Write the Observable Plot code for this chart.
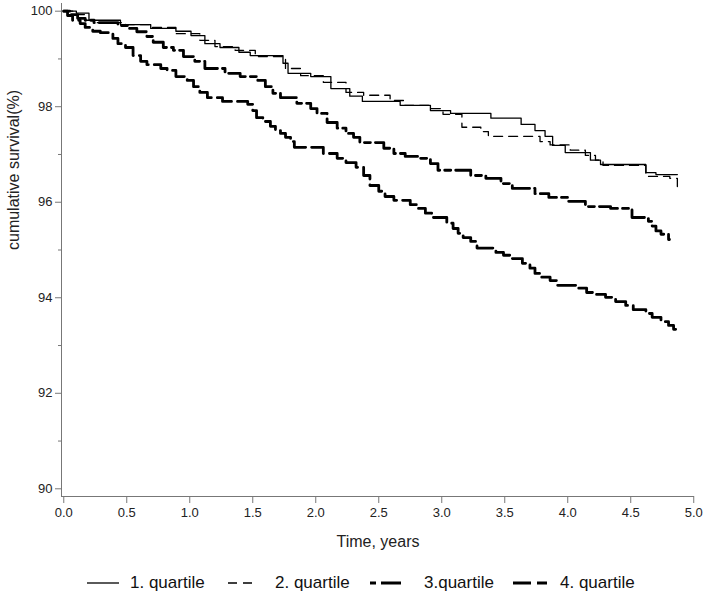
<!DOCTYPE html>
<html><head><meta charset="utf-8">
<script src="https://cdn.jsdelivr.net/npm/d3@7"></script>
<script src="https://cdn.jsdelivr.net/npm/@observablehq/plot@0.6"></script>
<style>
body{margin:0;background:#fff;font-family:"Liberation Sans",Arial,sans-serif;}
#legend{position:relative;width:704px;height:36px;}
#legend .s{position:absolute;top:0;height:36px;}
#legend .t{position:absolute;top:0;height:36px;line-height:36px;font-size:17px;color:#111;white-space:pre;}
</style></head><body><div id="chart"></div><div id="legend"></div>
<script>
// ---------- data ----------
const seriesNames = ["1. quartile", "2. quartile", "3.quartile", "4. quartile"];

const q1Time = [0, 0.10, 0.20, 0.45, 0.69, 0.89, 1.01, 1.12, 1.24, 1.39, 1.48, 1.74, 1.78, 1.96, 2.12, 2.27, 2.37, 2.67, 2.91, 3.07, 3.39, 3.63, 3.74, 3.82, 3.88, 3.98, 4.18, 4.26, 4.62, 4.70, 4.87];
const q1Surv = [100, 99.96, 99.81, 99.72, 99.64, 99.58, 99.49, 99.32, 99.24, 99.14, 99.07, 98.91, 98.70, 98.63, 98.38, 98.22, 98.11, 98.03, 97.92, 97.86, 97.76, 97.63, 97.50, 97.38, 97.19, 97.04, 96.88, 96.79, 96.62, 96.58, 96.58];

const q2Time = [0, 0.09, 0.17, 0.25, 0.49, 0.69, 0.89, 1.08, 1.20, 1.36, 1.52, 1.76, 1.88, 2.06, 2.24, 2.38, 2.59, 2.70, 2.91, 3.01, 3.16, 3.31, 3.37, 3.78, 3.86, 4.02, 4.14, 4.22, 4.28, 4.62, 4.81, 4.87];
const q2Surv = [100, 99.93, 99.81, 99.76, 99.72, 99.66, 99.53, 99.39, 99.26, 99.18, 99.05, 98.80, 98.65, 98.51, 98.30, 98.24, 98.13, 98.03, 97.96, 97.84, 97.57, 97.48, 97.38, 97.27, 97.20, 97.09, 96.98, 96.88, 96.77, 96.54, 96.50, 96.33];

const q3Time = [0, 0.05, 0.11, 0.17, 0.24, 0.43, 0.51, 0.58, 0.66, 0.71, 0.79, 0.87, 0.95, 1.04, 1.12, 1.28, 1.40, 1.54, 1.60, 1.66, 1.72, 1.85, 1.96, 2.01, 2.09, 2.17, 2.24, 2.30, 2.35, 2.54, 2.62, 2.71, 2.83, 2.91, 2.97, 3.23, 3.35, 3.47, 3.56, 3.74, 3.85, 4.00, 4.14, 4.34, 4.51, 4.64, 4.67, 4.70, 4.74, 4.80, 4.82];
const q3Surv = [100, 99.93, 99.85, 99.81, 99.76, 99.70, 99.64, 99.57, 99.47, 99.35, 99.24, 99.18, 99.05, 98.95, 98.80, 98.70, 98.63, 98.55, 98.42, 98.28, 98.19, 98.07, 97.96, 97.86, 97.67, 97.55, 97.44, 97.36, 97.25, 97.13, 97.02, 96.96, 96.92, 96.81, 96.67, 96.56, 96.50, 96.39, 96.29, 96.18, 96.10, 96.02, 95.91, 95.87, 95.68, 95.60, 95.50, 95.40, 95.33, 95.22, 95.16];

const q4Time = [0, 0.03, 0.07, 0.13, 0.17, 0.23, 0.29, 0.39, 0.43, 0.49, 0.55, 0.61, 0.66, 0.77, 0.82, 0.89, 0.98, 1.03, 1.08, 1.14, 1.26, 1.46, 1.50, 1.53, 1.58, 1.64, 1.68, 1.72, 1.76, 1.80, 1.83, 2.06, 2.17, 2.24, 2.32, 2.38, 2.43, 2.50, 2.55, 2.62, 2.75, 2.81, 2.87, 2.92, 3.04, 3.09, 3.13, 3.17, 3.23, 3.28, 3.43, 3.49, 3.56, 3.64, 3.70, 3.74, 3.78, 3.86, 3.92, 4.08, 4.15, 4.22, 4.30, 4.38, 4.46, 4.52, 4.62, 4.67, 4.74, 4.80, 4.84, 4.87];
const q4Surv = [100, 99.91, 99.81, 99.74, 99.66, 99.58, 99.55, 99.43, 99.32, 99.24, 99.07, 98.95, 98.88, 98.80, 98.76, 98.63, 98.55, 98.42, 98.30, 98.19, 98.11, 98.05, 97.92, 97.77, 97.69, 97.59, 97.50, 97.44, 97.36, 97.27, 97.15, 97.02, 96.92, 96.83, 96.73, 96.56, 96.35, 96.23, 96.12, 96.04, 95.95, 95.87, 95.77, 95.68, 95.56, 95.45, 95.35, 95.26, 95.18, 95.04, 94.95, 94.89, 94.82, 94.72, 94.62, 94.51, 94.43, 94.36, 94.26, 94.20, 94.11, 94.07, 94.01, 93.92, 93.84, 93.75, 93.67, 93.59, 93.50, 93.42, 93.34, 93.30];

const xTicks = [0, 0.5, 1, 1.5, 2, 2.5, 3, 3.5, 4, 4.5, 5];
const yTicks = [90, 92, 94, 96, 98, 100];
const yMinorTicks = [91, 93, 95, 97, 99];
const xTitle = "Time, years";
const yTitle = "cumulative survival(%)";

// ---------- styles ----------
const xDomain = [-0.018, 5.006];
const yDomain = [89.839, 100.161];
const lineStyles = [
  {strokeWidth: 1.3, dash: null},
  {strokeWidth: 1.3, dash: "9,6"},
  {strokeWidth: 2.8, dash: "6,5,20,5"},
  {strokeWidth: 2.8, dash: "18,6"}
];
const axisColor = "#777";
const textColor = "#222";

const series = [[q1Time, q1Surv], [q2Time, q2Surv], [q3Time, q3Surv], [q4Time, q4Surv]]
  .map(([ts, vs], i) => ts.map((t, j) => ({t, v: vs[j], name: seriesNames[i]})));

const chart = Plot.plot({
  width: 704,
  height: 565,
  marginTop: 3,
  marginLeft: 61,
  marginRight: 10,
  marginBottom: 69,
  style: {fontFamily: "'Liberation Sans', Arial, sans-serif", fontSize: "13px", background: "#fff", color: textColor},
  x: {domain: xDomain},
  y: {domain: yDomain},
  marks: [
    Plot.axisY(yTicks, {tickSize: 6, tickPadding: 3, tickFormat: d => String(d), stroke: axisColor, fill: textColor, label: null}),
    Plot.axisY(yMinorTicks, {tickSize: 3, tickFormat: () => "", stroke: axisColor, label: null}),
    Plot.axisX(xTicks, {tickSize: 7, tickPadding: 4, tickFormat: d => d.toFixed(1), stroke: axisColor, fill: textColor, label: null}),
    Plot.ruleX([xDomain[0]], {stroke: axisColor}),
    Plot.ruleY([yDomain[0]], {stroke: axisColor}),
    Plot.text([xTitle], {frameAnchor: "bottom", dy: 50, fontSize: 16, fill: textColor}),
    Plot.text([yTitle], {frameAnchor: "left", dx: -48, rotate: -90, fontSize: 16, fill: textColor}),
    ...series.map((data, i) => Plot.line(data, {
      x: "t", y: "v", curve: "step-after", stroke: "#000",
      strokeWidth: lineStyles[i].strokeWidth,
      strokeDasharray: lineStyles[i].dash
    }))
  ]
});
document.getElementById("chart").appendChild(chart);

// ---------- legend ----------
const legendLayout = [
  {s: 87, w: 32, t: 130},
  {s: 228, w: 28, t: 275},
  {s: 370, w: 34, t: 424},
  {s: 513, w: 34, t: 560}
];
const legend = document.getElementById("legend");
seriesNames.forEach((name, i) => {
  const L = legendLayout[i], st = lineStyles[i];
  const svg = document.createElementNS("http://www.w3.org/2000/svg", "svg");
  svg.setAttribute("class", "s");
  svg.setAttribute("width", L.w);
  svg.setAttribute("height", 36);
  svg.style.left = L.s + "px";
  const ln = document.createElementNS("http://www.w3.org/2000/svg", "line");
  ln.setAttribute("x1", 0); ln.setAttribute("x2", L.w);
  ln.setAttribute("y1", 18); ln.setAttribute("y2", 18);
  ln.setAttribute("stroke", "#000");
  ln.setAttribute("stroke-width", st.strokeWidth);
  if (st.dash) ln.setAttribute("stroke-dasharray", st.dash);
  svg.appendChild(ln);
  legend.appendChild(svg);
  const sp = document.createElement("span");
  sp.className = "t";
  sp.style.left = L.t + "px";
  sp.textContent = name;
  legend.appendChild(sp);
});
</script></body></html>
